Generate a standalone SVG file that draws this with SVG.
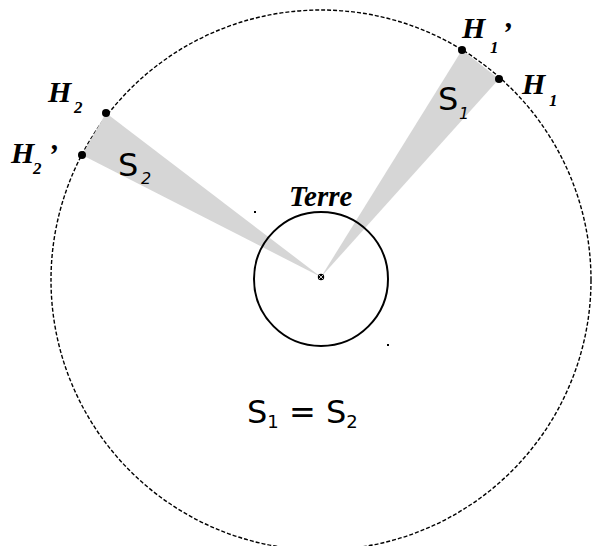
<svg xmlns="http://www.w3.org/2000/svg" width="597" height="546" viewBox="0 0 597 546">
<style>
.lbl{font-family:"Liberation Serif","Times New Roman",serif;font-weight:bold;font-style:italic;fill:#000}
.sans{font-family:"DejaVu Sans",sans-serif;fill:#000}
.wedge{fill:#d6d6d6;stroke:none}
.pt{fill:#000}
</style>
<rect width="597" height="546" fill="#fff"/>
<g id="orbit">
<circle cx="321" cy="280" r="270" fill="none" stroke="#000" stroke-width="1.4" stroke-dasharray="4 2"/>
</g>
<g id="wedges">
<polygon class="wedge" points="321,277 462,50 499,79"/>
<polygon class="wedge" points="321,277 106,113 82,155"/>
</g>
<g id="terre">
<circle cx="321" cy="279" r="67" fill="none" stroke="#000" stroke-width="2"/>
<circle cx="321" cy="277" r="3.2" fill="#000"/>
<path d="M319,275 L323,279 M323,275 L319,279" stroke="#fff" stroke-width="0.8"/>
<rect x="254" y="211" width="2" height="2" fill="#000"/>
<rect x="387" y="344" width="2" height="2" fill="#000"/>
<text class="lbl" x="289" y="206" font-size="29">Terre</text>
</g>
<g id="H1p">
<circle class="pt" cx="462" cy="50" r="4"/>
<text class="lbl" x="462" y="38" font-size="30">H</text>
<text class="lbl" x="490" y="53" font-size="17">1</text>
<text class="lbl" x="502" y="42" font-size="30">’</text>
</g>
<g id="H1">
<circle class="pt" cx="499" cy="79" r="4"/>
<text class="lbl" x="522" y="94" font-size="30">H</text>
<text class="lbl" x="549" y="106" font-size="17">1</text>
</g>
<g id="H2">
<circle class="pt" cx="106" cy="113" r="4"/>
<text class="lbl" x="48" y="102" font-size="30">H</text>
<text class="lbl" x="74" y="113" font-size="17">2</text>
</g>
<g id="H2p">
<circle class="pt" cx="82" cy="155" r="4"/>
<text class="lbl" x="11" y="163" font-size="30">H</text>
<text class="lbl" x="33" y="174" font-size="17">2</text>
<text class="lbl" x="48" y="164" font-size="30">’</text>
</g>
<g id="S1">
<text class="sans" x="438" y="110" font-size="32">S</text>
<text class="sans" x="459" y="119" font-size="16" font-style="italic">1</text>
</g>
<g id="S2">
<text class="sans" x="118" y="176" font-size="32">S</text>
<text class="sans" x="141" y="184" font-size="16" font-style="italic">2</text>
</g>
<g id="equation">
<text class="sans" x="247" y="423" font-size="32">S<tspan font-size="18" dy="5">1</tspan><tspan dy="-5"> = S</tspan><tspan font-size="18" dy="5">2</tspan></text>
</g>
</svg>
